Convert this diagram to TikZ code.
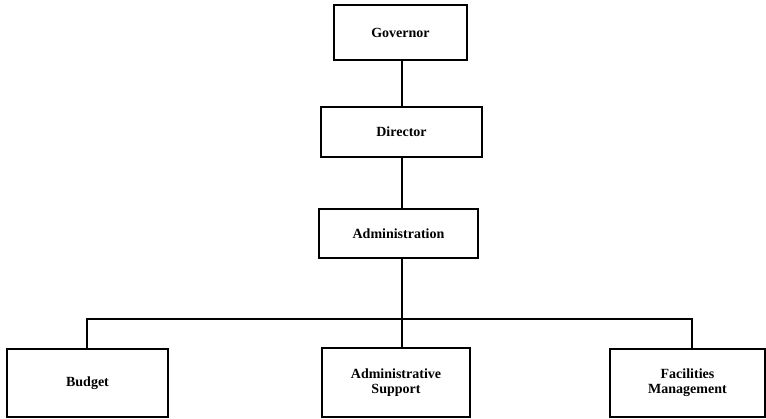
\documentclass[tikz,border=0pt]{standalone}
\usepackage{fontspec}
\setmainfont{Liberation Serif}
\begin{document}
\begin{tikzpicture}[x=1pt,y=-1pt,
  unit/.style={draw, line width=1.8pt, rectangle, inner sep=0pt, align=center,
    font=\fontsize{14}{15}\selectfont\bfseries},
  link/.style={line width=1.8pt}]
\useasboundingbox (0,0) rectangle (766,418);
% Boxes: anchored by their centres, sized by width/height
\node[unit, minimum width=133pt, minimum height=55pt] (gov) at (400.5,32.5) {Governor};
\node[unit, minimum width=161pt, minimum height=50pt] (dir) at (401.5,132) {Director};
\node[unit, minimum width=159pt, minimum height=49pt] (adm) at (398.5,233.5) {Administration};
\node[unit, minimum width=161pt, minimum height=68pt] (bud) at (87.5,383) {Budget};
\node[unit, minimum width=148pt, minimum height=69pt] (sup) at (396,382.5) {Administrative\\Support};
\node[unit, minimum width=155pt, minimum height=68pt] (fac) at (687.5,383) {Facilities\\Management};
% Reporting lines
\coordinate (bus) at (402,319);
\draw[link] (gov.south -| bus) -- (dir.north -| bus);
\draw[link] (dir.south -| bus) -- (adm.north -| bus);
\draw[link] (adm.south -| bus) -- (sup.north -| bus);
\draw[link] (bud.north -| 87,0) |- (bus) -| (fac.north -| 692,0);
\end{tikzpicture}
\end{document}
